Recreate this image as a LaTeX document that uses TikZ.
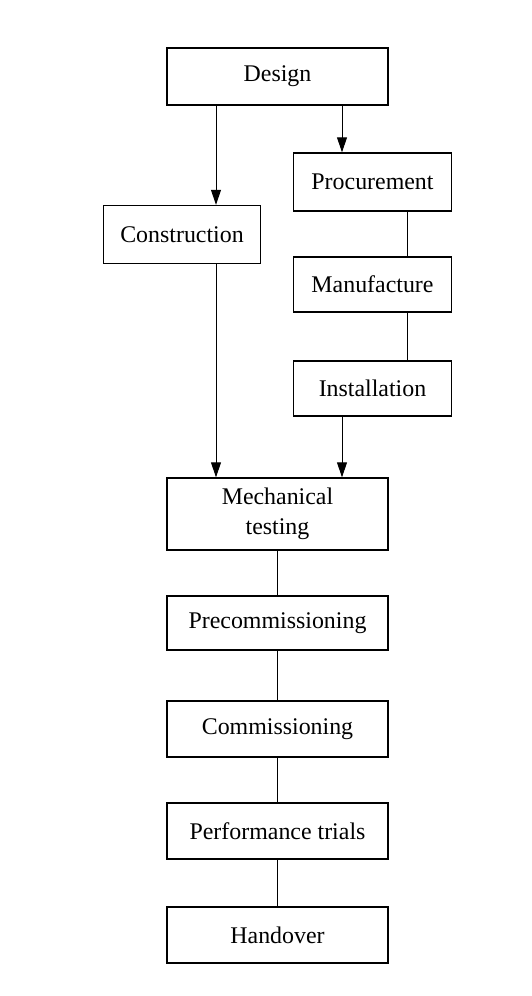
\documentclass[tikz,border=0pt]{standalone}
\usepackage{fontspec}
\setmainfont{Liberation Serif}
\usetikzlibrary{arrows.meta,positioning}

\tikzset{
  stage/.style={draw, line width=0.8pt, fill=white, align=center,
    font=\fontsize{13.6}{15}\selectfont, inner sep=0pt},
  wide/.style={stage, minimum width=4.42cm},
  narrow/.style={stage, minimum width=3.15cm},
  link/.style={line width=0.55pt},
  arr/.style={link, -{Triangle[width=0.2cm,length=0.3cm]}}
}

\begin{document}
\begin{tikzpicture}[x=0.02cm, y=-0.02cm]
\useasboundingbox (0,0) rectangle (531,996);

% Top
\node[wide, minimum height=1.14cm] (design) at (277.5,76.5) {Design};

% Two branches
\node[narrow, minimum height=1.16cm] (con) at (182,234.5) {Construction};
\node[narrow, minimum height=1.16cm] (proc) at (372.5,182) {Procurement};
\node[narrow, minimum height=1.10cm] (manu) at (372.5,284.5) {Manufacture};
\node[narrow, minimum height=1.10cm] (inst) at (372.5,388.5) {Installation};

% Main chain
\node[wide, minimum height=1.44cm] (mech) at (277.5,514) {Mechanical\\[2pt]testing};
\node[wide, minimum height=1.08cm] (pre) at (277.5,623) {Precommissioning};
\node[wide, minimum height=1.12cm] (com) at (277.5,729) {Commissioning};
\node[wide, minimum height=1.12cm] (perf) at (277.5,831) {Performance trials};
\node[wide, minimum height=1.12cm] (hand) at (277.5,935) {Handover};

% Line positions
\coordinate (cx) at (216,0);
\coordinate (px) at (342,0);
\coordinate (mx) at (407,0);

% Connectors
\draw[arr] (design.south -| cx) -- (con.north -| cx);
\draw[arr] (design.south -| px) -- (proc.north -| px);
\draw[link] (proc.south -| mx) -- (manu.north -| mx);
\draw[link] (manu.south -| mx) -- (inst.north -| mx);
\draw[arr] (con.south -| cx) -- (mech.north -| cx);
\draw[arr] (inst.south -| px) -- (mech.north -| px);
\draw[link] (mech) -- (pre);
\draw[link] (pre) -- (com);
\draw[link] (com) -- (perf);
\draw[link] (perf) -- (hand);
\end{tikzpicture}
\end{document}
